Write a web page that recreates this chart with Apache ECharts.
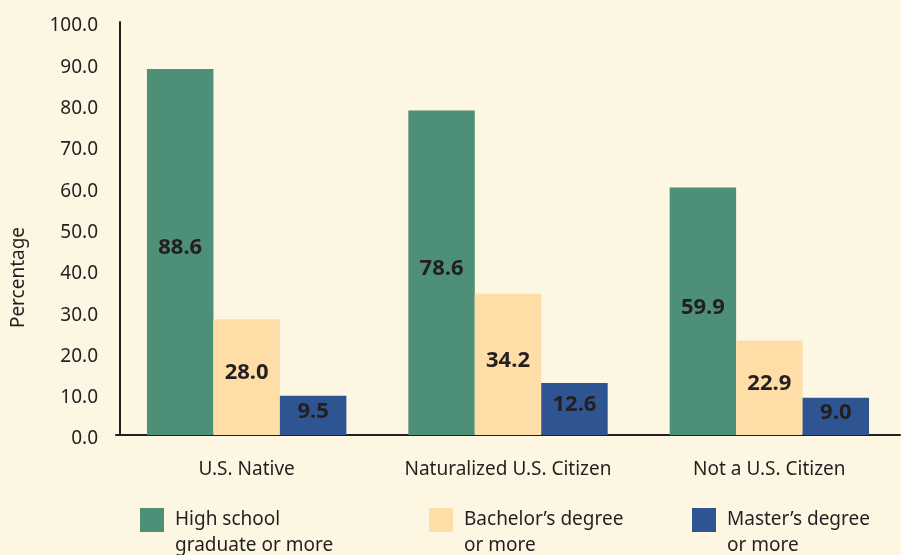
<!DOCTYPE html>
<html>
<head>
<meta charset="utf-8">
<script src="https://cdn.jsdelivr.net/npm/echarts@6/dist/echarts.min.js"></script>
<style>
  html, body { margin: 0; padding: 0; background: #fdf6e3; }
  #chart { width: 901px; height: 555px; }
</style>
</head>
<body>
<div id="chart"></div>
<script>
// Educational attainment by citizenship status
const categories = ['U.S. Native', 'Naturalized U.S. Citizen', 'Not a U.S. Citizen'];
const seriesNames = ['High school graduate or more', "Bachelor\u2019s degree or more", "Master\u2019s degree or more"];
const legendLabels = ['High school\ngraduate or more', "Bachelor\u2019s degree\nor more", "Master\u2019s degree\nor more"];
const highSchool = [88.6, 78.6, 59.9];
const bachelors = [28.0, 34.2, 22.9];
const masters = [9.5, 12.6, 9.0];
const yTicks = [0, 10, 20, 30, 40, 50, 60, 70, 80, 90, 100];

const FONT = '"Noto Sans", "Open Sans", sans-serif';
const INK = '#231f20';
const colors = ['#4d8f77', '#fedda6', '#2e5591'];
const values = [highSchool, bachelors, masters];
const legendLeft = [135, 424, 687];

const chart = echarts.init(document.getElementById('chart'));

const series = seriesNames.map((name, i) => ({
  name: name,
  type: 'bar',
  data: values[i],
  barGap: '0%',
  barCategoryGap: '23.7%',
  itemStyle: { color: colors[i] },
  label: {
    show: true,
    position: 'inside',
    offset: [0, -4],
    formatter: p => p.value.toFixed(1),
    color: INK,
    fontFamily: FONT,
    fontWeight: 'bold',
    fontSize: 22
  }
}));

// One legend per series so each entry can sit at its own column.
// A leading blank line keeps the first text line level with the swatch
// while the second line hangs below it.
const legends = seriesNames.map((name, i) => ({
  data: [name],
  left: legendLeft[i],
  top: 476,
  orient: 'horizontal',
  itemWidth: 24,
  itemHeight: 24,
  icon: 'rect',
  selectedMode: false,
  formatter: () => '\n' + legendLabels[i],
  textStyle: {
    color: INK,
    fontFamily: FONT,
    fontSize: 19,
    lineHeight: 26,
    padding: [0, 0, 0, 6]
  }
}));

chart.setOption({
  backgroundColor: '#fdf6e3',
  animation: false,
  grid: { left: 116, right: 1, top: 22, bottom: 120 },
  legend: legends,
  xAxis: {
    type: 'category',
    data: categories,
    axisLine: { show: true, lineStyle: { color: INK, width: 2 } },
    axisTick: { show: false },
    axisLabel: { color: INK, fontFamily: FONT, fontSize: 19, margin: 25, interval: 0 }
  },
  yAxis: {
    type: 'value',
    min: yTicks[0],
    max: yTicks[yTicks.length - 1],
    interval: 10,
    offset: -4,
    name: 'Percentage',
    nameLocation: 'middle',
    nameGap: 92,
    nameTextStyle: {
      color: INK,
      fontFamily: FONT,
      fontSize: 19,
      padding: [0, 98, 0, 0]
    },
    axisLine: { show: true, lineStyle: { color: INK, width: 2 } },
    axisTick: { show: false },
    splitLine: { show: false },
    axisLabel: {
      color: INK,
      margin: 22,
      formatter: v => '{t|' + v.toFixed(1) + '}',
      rich: {
        t: {
          color: INK,
          fontFamily: FONT,
          fontSize: 19,
          padding: [8, 0, 0, 0]
        }
      }
    }
  },
  series: series
});
</script>
</body>
</html>
